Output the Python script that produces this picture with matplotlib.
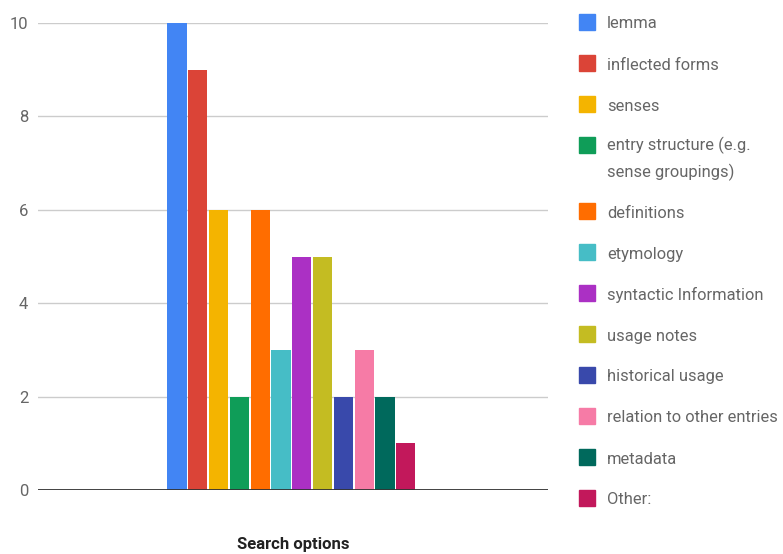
import matplotlib
matplotlib.use("Agg")
import matplotlib.pyplot as plt
from matplotlib.patches import Rectangle

categories = [
    "lemma", "inflected forms", "senses", "entry structure (e.g.\nsense groupings)",
    "definitions", "etymology", "syntactic Information", "usage notes",
    "historical usage", "relation to other entries", "metadata", "Other:",
]
values = [10, 9, 6, 2, 6, 3, 5, 5, 2, 3, 2, 1]
colors = [
    "#4285F4", "#DB4437", "#F4B400", "#0F9D58", "#FF6D00", "#46BDC6",
    "#AB30C4", "#C4BC22", "#3949AB", "#F67BA6", "#00695C", "#C2185B",
]
yticks = [0, 2, 4, 6, 8, 10]
xlabel = "Search options"

plt.rcParams["font.family"] = ["Roboto", "DejaVu Sans"]

W, H = 783, 554
fig = plt.figure(figsize=(W / 100, H / 100), dpi=100)
ax = fig.add_axes([38 / W, 1 - 490 / H, (548 - 38) / W, (490 - 23) / H])

xs = list(range(len(values)))
ax.bar(xs, values, width=0.92, color=colors, zorder=3)

ax.set_xlim(-6.68, 17.84)
ax.set_ylim(0, 10)
ax.set_yticks(yticks)
ax.set_yticklabels([str(t) for t in yticks], color="#666666", fontsize=12)
ax.set_xticks([])
ax.tick_params(axis="y", length=0, pad=7)
for s in ax.spines.values():
    s.set_visible(False)
for t in yticks[1:]:
    ax.axhline(t, color="#cccccc", lw=1, zorder=1)
ax.axhline(0, color="#333333", lw=1.3, zorder=4)

fig.text(293 / W, 1 - 545 / H, xlabel, ha="center", va="center",
         fontsize=12, fontweight="bold", color="#222222")

# legend drawn as a column of swatches and labels
y = 22
for label, c in zip(categories, colors):
    fig.patches.append(Rectangle((579 / W, 1 - (y + 8) / H), 16 / W, 16 / H,
                                 transform=fig.transFigure, color=c))
    multi = "\n" in label
    ty = 1 - (y - 8) / H if multi else 1 - (y + 2) / H
    fig.text(607 / W, ty, label, ha="left", va="top" if multi else "center",
             fontsize=11.9, color="#666666", linespacing=1.7)
    y += 41 + (25 if multi else 0)

fig.savefig("out.png", dpi=100)
